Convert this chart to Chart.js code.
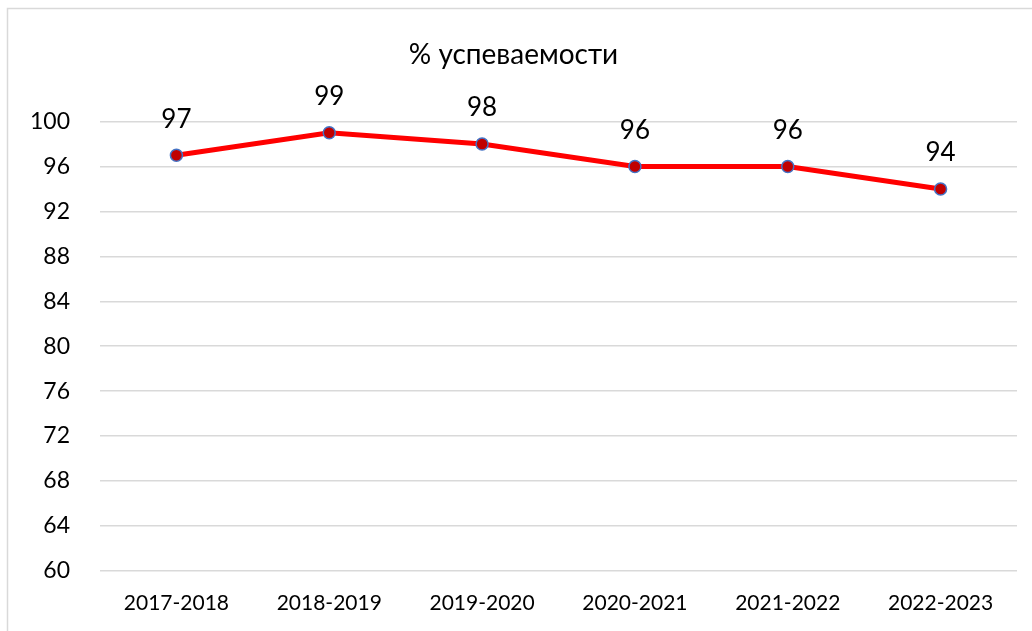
<!DOCTYPE html>
<html>
<head>
<meta charset="utf-8">
<script src="https://cdn.jsdelivr.net/npm/chart.js@4.4.1/dist/chart.umd.min.js"></script>
<style>
    html, body { margin: 0; padding: 0; background: #fff; }
    #wrap { width: 1032px; height: 631px; position: relative; }
</style>
</head>
<body>
<div id="wrap"><canvas id="chart" width="1032" height="631"></canvas></div>
<script>
const chartTitle = '% успеваемости';
const years = ['2017-2018', '2018-2019', '2019-2020', '2020-2021', '2021-2022', '2022-2023'];
const successRate = [97, 99, 98, 96, 96, 94];
const yMin = 60;
const yMax = 100;
const yStep = 4;

const FONT = "Lato, 'Open Sans', 'Liberation Sans', sans-serif";

// Value labels above each point, placed from the dataset's own point positions.
const pointLabels = {
    id: 'pointLabels',
    afterDatasetsDraw(chart) {
        const ctx = chart.ctx;
        const meta = chart.getDatasetMeta(0);
        ctx.save();
        ctx.font = '26px ' + FONT;
        ctx.fillStyle = '#000';
        ctx.textAlign = 'center';
        ctx.textBaseline = 'middle';
        meta.data.forEach((pt, i) => {
            ctx.fillText(String(successRate[i]), pt.x, pt.y - 36);
        });
        ctx.restore();
    },
};

// Thin frame of the chart box (only left and top edges are visible in the crop).
const frame = {
    id: 'frame',
    beforeDraw(chart) {
        const ctx = chart.ctx;
        ctx.save();
        ctx.strokeStyle = '#d9d9d9';
        ctx.lineWidth = 1.5;
        ctx.beginPath();
        ctx.moveTo(7.5, 640);
        ctx.lineTo(7.5, 8.5);
        ctx.lineTo(1040, 8.5);
        ctx.stroke();
        ctx.restore();
    },
};

new Chart(document.getElementById('chart').getContext('2d'), {
    type: 'line',
    data: {
        labels: years,
        datasets: [
            {
                label: chartTitle,
                data: successRate,
                borderColor: '#ff0000',
                borderWidth: 5,
                pointRadius: 6,
                pointBorderWidth: 1.5,
                pointBackgroundColor: '#c00000',
                pointBorderColor: '#4472c4',
                tension: 0,
                fill: false,
            },
        ],
    },
    options: {
        responsive: false,
        animation: false,
        layout: { padding: { left: 10, right: 15, top: 0, bottom: 3 } },
        plugins: {
            legend: { display: false },
            tooltip: { enabled: false },
            title: {
                display: true,
                text: chartTitle,
                color: '#000',
                font: { family: FONT, size: 28, weight: 'normal' },
                padding: { top: 38, bottom: 50 },
            },
        },
        scales: {
            x: {
                offset: true,
                grid: { display: false, offset: true },
                border: { display: false },
                ticks: {
                    color: '#000',
                    font: { family: FONT, size: 21 },
                    padding: 12,
                    maxRotation: 0,
                },
            },
            y: {
                min: yMin,
                max: yMax,
                afterFit(scale) { scale.width = 90; },
                grid: { color: '#d9d9d9', lineWidth: 1.5, drawTicks: false },
                border: { display: false },
                ticks: {
                    stepSize: yStep,
                    color: '#000',
                    font: { family: FONT, size: 23 },
                    padding: 30,
                },
            },
        },
    },
    plugins: [pointLabels, frame],
});
</script>
</body>
</html>
